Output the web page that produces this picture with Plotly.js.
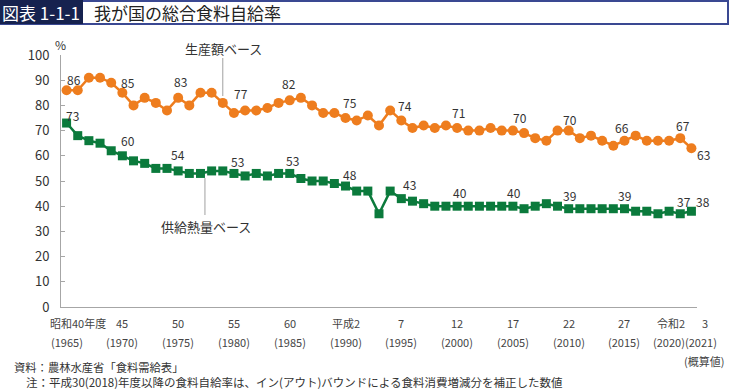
<!DOCTYPE html>
<html>
<head>
<meta charset="utf-8">
<script src="https://cdn.plot.ly/plotly-3.0.1.min.js"></script>
<style>
html,body{margin:0;padding:0;background:#fff;}
#chart{width:730px;height:389px;}
</style>
</head>
<body>
<div id="chart"></div>
<script>
// ---- data ----
const years = [];
for (let y = 1965; y <= 2021; y++) years.push(y);

// 生産額ベース (production value basis, %)
const productionValue = [
  86, 86, 91, 91, 89, 85, 80, 83, 81, 78,
  83, 80, 85, 85, 81, 77, 78, 78, 79, 81,
  82, 83, 80, 77, 77, 75, 74, 76, 72, 78,
  74, 71, 72, 71, 72, 71, 70, 70, 71, 70,
  70, 69, 67, 66, 70, 70, 67, 68, 66, 64,
  66, 68, 66, 66, 66, 67, 63
];
// 供給熱量ベース (calorie supply basis, %)
const calorieSupply = [
  73, 68, 66, 65, 62, 60, 58, 57, 55, 55,
  54, 53, 53, 54, 54, 53, 52, 53, 52, 53,
  53, 51, 50, 50, 49, 48, 46, 46, 37, 46,
  43, 42, 41, 40, 40, 40, 40, 40, 40, 40,
  40, 39, 40, 41, 40, 39, 39, 39, 39, 39,
  39, 38, 38, 37, 38, 37, 38
];

const seriesNames = ['生産額ベース', '供給熱量ベース'];
const labelYears = [1965, 1970, 1975, 1980, 1985, 1990, 1995, 2000, 2005, 2010, 2015, 2020, 2021];

const tickYears = [1965, 1970, 1975, 1980, 1985, 1990, 1995, 2000, 2005, 2010, 2015, 2020, 2021];
const tickEra = ['昭和40年度', '45', '50', '55', '60', '平成2', '7', '12', '17', '22', '27', '令和2', '3'];
const tickWestern = ['(1965)', '(1970)', '(1975)', '(1980)', '(1985)', '(1990)', '(1995)', '(2000)', '(2005)', '(2010)', '(2015)', '(2020)', '(2021)'];

const titleTag = '図表 1-1-1';
const titleText = '我が国の総合食料自給率';
const sourceText = '資料：農林水産省「食料需給表」';
const noteText = '注：平成30(2018)年度以降の食料自給率は、イン(アウト)バウンドによる食料消費増減分を補正した数値';
const estimateText = '(概算値)';

// ---- styles / offsets ----
const ORANGE = '#EE7D1E';
const GREEN = '#0B7A3C';
const FONT = '"Noto Sans CJK JP", "Noto Sans", sans-serif';
const W = 730, H = 389;
const L = 61, R = 33, T = 55, B = 82;
const PW = W - L - R, PH = H - T - B;
const px = x => (x - L) / PW;
const py = y => (H - B - y) / PH;

const orangeOff = [[7,-11],[6,-10],[2,-16],[7,-19],[-1,-17],[4,-16],[4,-15],[1,-16],[7,-13],[1,-11],[-2,-13],[3,-13],[12,6]];
const greenOff  = [[6,-8],[6,-15],[0,-16],[4,-12],[3,-13],[4,-12],[8,-14],[3,-14],[1,-14],[1,-13],[0,-13],[4,-12],[12,-10]];
const eraShift = [11,0,0,0,0,0,0,0,0,0,0,-9,14];
const westShift = [0,0,0,0,0,0,0,0,0,0,0,-11,10];

const traces = [
  {
    x: years, y: productionValue, name: seriesNames[0], type: 'scatter', mode: 'lines+markers',
    line: {color: ORANGE, width: 2.5},
    marker: {symbol: 'circle', size: 10, color: ORANGE},
    hoverinfo: 'x+y'
  },
  {
    x: years, y: calorieSupply, name: seriesNames[1], type: 'scatter', mode: 'lines+markers',
    line: {color: GREEN, width: 2.5},
    marker: {symbol: 'square', size: 9, color: GREEN},
    hoverinfo: 'x+y'
  }
];

const annotations = [];
labelYears.forEach((yr, i) => {
  const idx = years.indexOf(yr);
  annotations.push({
    x: yr, y: productionValue[idx], xref: 'x', yref: 'y', text: String(productionValue[idx]),
    showarrow: false, xanchor: 'center', yanchor: 'middle',
    xshift: orangeOff[i][0], yshift: -orangeOff[i][1],
    font: {family: FONT, size: 12, color: '#333'}
  });
  annotations.push({
    x: yr, y: calorieSupply[idx], xref: 'x', yref: 'y', text: String(calorieSupply[idx]),
    showarrow: false, xanchor: 'center', yanchor: 'middle',
    xshift: greenOff[i][0], yshift: -greenOff[i][1],
    font: {family: FONT, size: 12, color: '#333'}
  });
});

tickYears.forEach((yr, i) => {
  annotations.push({
    x: yr, xref: 'x', y: py(323), yref: 'paper', text: tickEra[i], showarrow: false,
    xanchor: 'center', yanchor: 'middle', xshift: eraShift[i],
    font: {family: FONT, size: 11, color: '#444'}
  });
  annotations.push({
    x: yr, xref: 'x', y: py(342), yref: 'paper', text: tickWestern[i], showarrow: false,
    xanchor: 'center', yanchor: 'middle', xshift: westShift[i],
    font: {family: FONT, size: 11, color: '#444'}
  });
});
annotations.push({
  x: px(704), xref: 'paper', y: py(361), yref: 'paper', text: estimateText, showarrow: false,
  xanchor: 'center', yanchor: 'middle', font: {family: FONT, size: 11, color: '#444'}
});

// series name labels
annotations.push({
  x: px(223), xref: 'paper', y: py(48), yref: 'paper', text: seriesNames[0], showarrow: false,
  xanchor: 'center', yanchor: 'middle', font: {family: FONT, size: 13, color: '#333'}
});
annotations.push({
  x: px(206), xref: 'paper', y: py(226), yref: 'paper', text: seriesNames[1], showarrow: false,
  xanchor: 'center', yanchor: 'middle', font: {family: FONT, size: 13, color: '#333'}
});

// % unit
annotations.push({
  x: px(60), xref: 'paper', y: py(45), yref: 'paper', text: '%', showarrow: false,
  xanchor: 'center', yanchor: 'middle', font: {family: FONT, size: 12, color: '#333'}
});

// header
annotations.push({
  x: px(41), xref: 'paper', y: py(12.5), yref: 'paper', text: titleTag, showarrow: false,
  xanchor: 'center', yanchor: 'middle', font: {family: FONT, size: 17, color: '#ffffff'}
});
annotations.push({
  x: px(92), xref: 'paper', y: py(12.5), yref: 'paper', text: titleText, showarrow: false,
  xanchor: 'left', yanchor: 'middle', font: {family: FONT, size: 17, color: '#222'}
});

// footer
annotations.push({
  x: px(12), xref: 'paper', y: py(367), yref: 'paper', text: sourceText, showarrow: false,
  xanchor: 'left', yanchor: 'middle', height: 14, font: {family: FONT, size: 11.3, color: '#333'}
});
annotations.push({
  x: px(24), xref: 'paper', y: py(381.5), yref: 'paper', text: noteText, showarrow: false,
  xanchor: 'left', yanchor: 'middle', height: 14, font: {family: FONT, size: 11.5, color: '#333'}
});

const shapes = [
  // header frame
  {type: 'rect', xref: 'paper', yref: 'paper', x0: px(1), x1: px(728), y0: py(24), y1: py(1),
   line: {color: '#3A4892', width: 2}, fillcolor: 'rgba(0,0,0,0)'},
  {type: 'rect', xref: 'paper', yref: 'paper', x0: px(0), x1: px(83), y0: py(24), y1: py(0),
   line: {width: 0}, fillcolor: '#16224F'},
  // leader lines
  {type: 'line', xref: 'x', yref: 'paper', x0: 1979, x1: 1979, y0: py(58), y1: py(96),
   line: {color: '#a0a0a0', width: 1}},
  {type: 'line', xref: 'x', yref: 'paper', x0: 1977.4, x1: 1977.4, y0: py(178), y1: py(215),
   line: {color: '#a0a0a0', width: 1}}
];

const layout = {
  width: W, height: H,
  margin: {l: L, r: R, t: T, b: B, pad: 0},
  paper_bgcolor: '#fff', plot_bgcolor: '#fff',
  showlegend: false,
  font: {family: FONT, color: '#333'},
  xaxis: {
    range: [1964.5, 2021.5], showgrid: false, zeroline: false,
    showline: true, linecolor: '#a6a6a6', linewidth: 1,
    ticks: '', showticklabels: false, fixedrange: true
  },
  yaxis: {
    range: [0, 100], dtick: 10, tick0: 0, showgrid: false, zeroline: false,
    showline: true, linecolor: '#a6a6a6', linewidth: 1,
    ticks: 'inside', ticklen: 4, tickcolor: '#a6a6a6',
    tickfont: {family: FONT, size: 13, color: '#333'},
    ticklabelstandoff: 8, fixedrange: true
  },
  annotations: annotations,
  shapes: shapes
};

Plotly.newPlot('chart', traces, layout, {displayModeBar: false, staticPlot: true});
</script>
</body>
</html>
